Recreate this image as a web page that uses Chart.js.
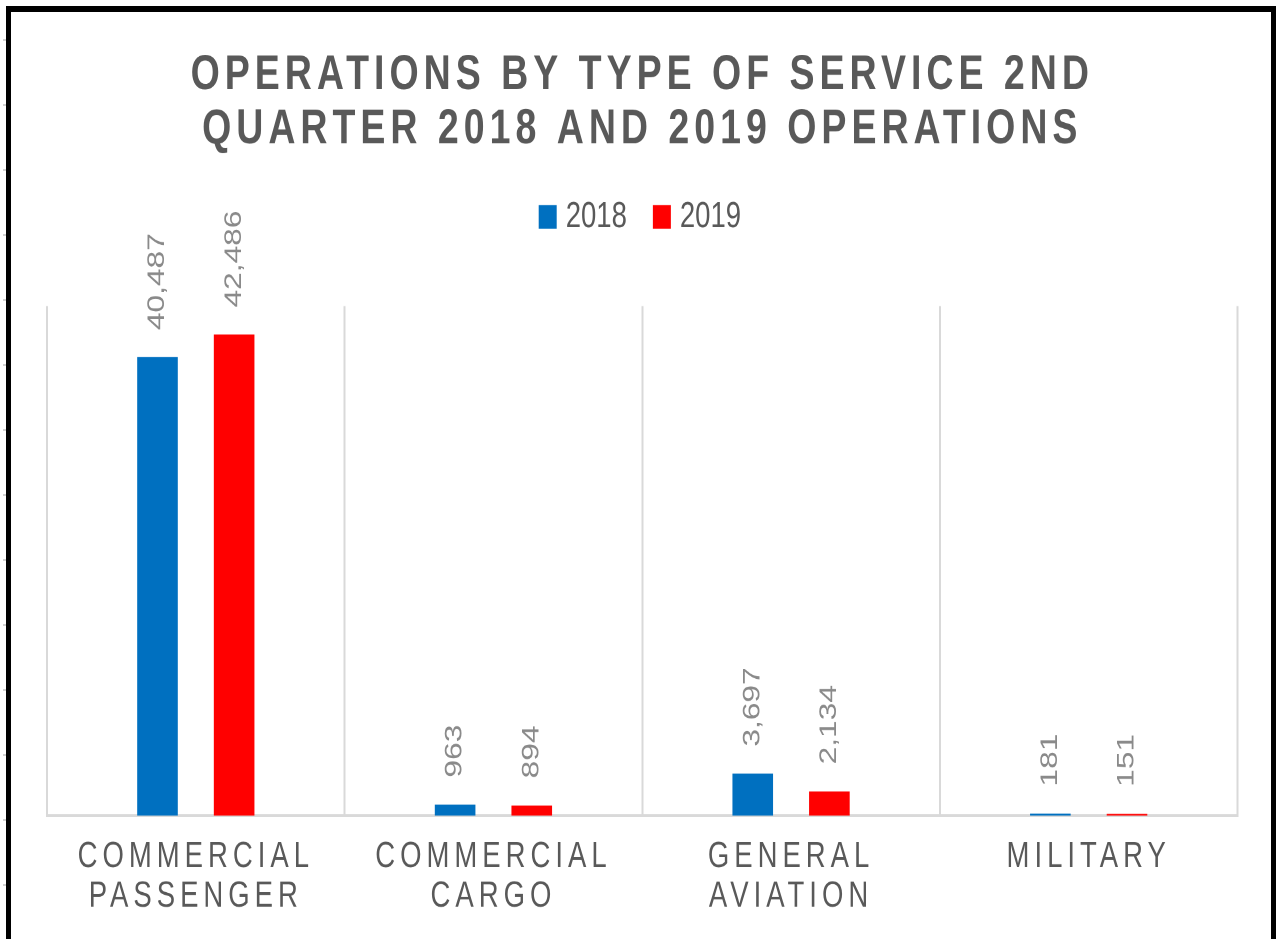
<!DOCTYPE html>
<html>
<head>
<meta charset="utf-8">
<script src="https://cdn.jsdelivr.net/npm/chart.js@4.4.1/dist/chart.umd.min.js"></script>
<style>
  html, body { margin: 0; padding: 0; background: #fff; overflow: hidden; }
  #stage { position: absolute; left: 0; top: 0; width: 1276px; height: 711px;
           transform: scaleY(1.3207); transform-origin: 0 0; }
  #frame { position: absolute; left: 6px; top: 6px; width: 1270px; height: 933px; box-sizing: border-box;
           border-top: 6px solid #000; border-left: 5px solid #000; border-right: 5px solid #000;
           pointer-events: none; }
  #marks { position: absolute; left: 3px; top: 0; width: 3px; height: 939px;
           background: repeating-linear-gradient(to bottom, transparent 0 39px, #d0d0d0 39px 41px, transparent 41px 65px); }
</style>
</head>
<body>
<div id="stage"><canvas id="chart"></canvas></div>
<div id="marks"></div>
<div id="frame"></div>
<script>
const categories = [['COMMERCIAL', 'PASSENGER'], ['COMMERCIAL', 'CARGO'], ['GENERAL', 'AVIATION'], 'MILITARY'];
const seriesNames = ['2018', '2019'];
const ops2018 = [40487, 963, 3697, 181];
const ops2019 = [42486, 894, 2134, 151];

const FONT = '"Liberation Sans", Arial, sans-serif';

// spaced caps for title and axis labels, plain text for the legend
const letterSpacing = {
    id: 'letterSpacing',
    beforeDraw(chart) {
        const legend = chart.legend;
        if (legend && !legend._plainText) {
            const draw = legend.draw.bind(legend);
            legend.draw = function (area) {
                const prev = chart.ctx.letterSpacing;
                chart.ctx.letterSpacing = '0px';
                draw(area);
                chart.ctx.letterSpacing = prev;
            };
            legend._plainText = true;
        }
        chart.ctx.letterSpacing = '5px';
    },
    afterDraw(chart) {
        chart.ctx.letterSpacing = '0px';
    }
};

// rotated value labels above each bar
const barValueLabels = {
    id: 'barValueLabels',
    afterDatasetsDraw(chart) {
        const ctx = chart.ctx;
        ctx.save();
        ctx.letterSpacing = '0px';
        ctx.font = '24px ' + FONT;
        ctx.fillStyle = '#8a8a8a';
        ctx.textAlign = 'left';
        ctx.textBaseline = 'middle';
        chart.data.datasets.forEach((ds, i) => {
            chart.getDatasetMeta(i).data.forEach((bar, j) => {
                ctx.save();
                ctx.translate(bar.x, bar.y - 20.5);
                ctx.rotate(-Math.PI / 2);
                ctx.fillText(ds.data[j].toLocaleString('en-US'), 0, 0);
                ctx.restore();
            });
        });
        ctx.restore();
    }
};

new Chart(document.getElementById('chart'), {
    type: 'bar',
    data: {
        labels: categories,
        datasets: [
            { label: seriesNames[0], data: ops2018, backgroundColor: '#0070c0' },
            { label: seriesNames[1], data: ops2019, backgroundColor: '#ff0000' }
        ]
    },
    options: {
        responsive: true,
        maintainAspectRatio: false,
        devicePixelRatio: 2,
        animation: false,
        categoryPercentage: 0.515,
        barPercentage: 0.53,
        layout: { padding: { left: 47, right: 38.5, top: 0, bottom: 0.6 } },
        scales: {
            x: {
                grid: { color: '#d9d9d9', lineWidth: 2, drawTicks: false, offset: true },
                border: { color: '#d9d9d9', width: 2 },
                ticks: {
                    color: '#595959',
                    font: { family: FONT, size: 27.5, lineHeight: 1.08 },
                    padding: 16.75,
                    maxRotation: 0
                }
            },
            y: { display: false, min: 0, max: 45000 }
        },
        plugins: {
            title: {
                display: true,
                text: ['OPERATIONS BY TYPE OF SERVICE 2ND', 'QUARTER 2018 AND 2019 OPERATIONS'],
                color: '#595959',
                font: { family: FONT, size: 37.5, weight: 'bold', lineHeight: 1.1 },
                padding: { top: 36.5, bottom: 0.75 }
            },
            legend: {
                position: 'top',
                labels: {
                    color: '#595959',
                    font: { family: FONT, size: 27.5 },
                    usePointStyle: true,
                    pointStyle: 'rect',
                    boxWidth: 8.5,
                    boxHeight: 18,
                    padding: 30.75
                }
            },
            // empty spacer between the legend and the plot
            subtitle: {
                display: true,
                text: '',
                weight: 500,
                font: { size: 1, lineHeight: 1 },
                padding: { top: 42.75, bottom: 0 }
            },
            tooltip: { enabled: false }
        }
    },
    plugins: [letterSpacing, barValueLabels]
});
</script>
</body>
</html>
